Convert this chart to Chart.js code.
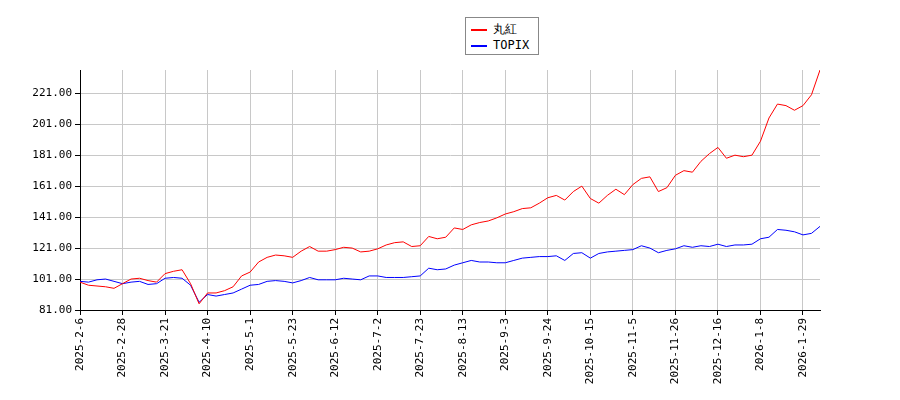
<!DOCTYPE html>
<html><head><meta charset="utf-8">
<script src="https://cdn.jsdelivr.net/npm/chart.js@4"></script>
<style>body{margin:0;background:#fff}#w{position:relative;width:900px;height:400px}
#lg{position:absolute;left:465px;top:17px;width:74px;height:38px;border:1px solid #888;background:#fff;font:12px "DejaVu Sans Mono",monospace;box-sizing:border-box;padding:3px 0 0 5px;line-height:16px}
#lg span{display:inline-block;width:16px;height:0;border-top:2px solid;vertical-align:middle;margin-right:6px}</style>
</head><body><div id="w"><canvas id="c" width="900" height="400"></canvas>
<div id="lg"><div><span style="border-color:red"></span>丸紅</div><div><span style="border-color:blue"></span>TOPIX</div></div></div>
<script>
const tickLabels=["2025-2-6","2025-2-28","2025-3-21","2025-4-10","2025-5-1","2025-5-23","2025-6-12","2025-7-2","2025-7-23","2025-8-13","2025-9-3","2025-9-24","2025-10-15","2025-11-5","2025-11-26","2025-12-16","2026-1-8","2026-1-29"];
const marubeni=[99,97,96.5,96,95,98,101,101.5,100,99,104.5,106,107,98,85,92,92,93.5,96,103,105.5,112,115,116.5,116,115,119,122,119,119,120,121.5,121,118.5,119,120.5,123,124.5,125,122,122.5,128.5,127,128,134,133,136,137.5,138.5,140.5,143,144.5,146.5,147,150,153.5,155,152,157.5,161,153,150,155,159,155.5,162,166,167,157.5,160,168,171,170,177,182,186,179,181,180,181,190,205,214,213,210,213,220,236];
const topix=[99.5,99,100.5,101,99.5,98,99,99.5,97.5,98,101.5,102,101.5,97,86,91,90,91,92,94.5,97,97.5,99.5,100,99.5,98.5,100,102,100.5,100.5,100.5,101.5,101,100.5,103,103,102,102,102,102.5,103,108,107,107.5,110,111.5,113,112,112,111.5,111.5,113,114.5,115,115.5,115.5,116,113,117.5,118,114.5,117.5,118.5,119,119.5,120,122.5,121,118,119.5,120.5,122.5,121.5,122.5,122,123.5,122,123,123,123.5,127,128,133,132.5,131.5,129.5,130.5,135];
const yTicks=[81,101,121,141,161,181,201,221];
const pts=a=>a.map((v,i)=>({x:i,y:v}));
new Chart(document.getElementById('c'),{type:'line',
data:{datasets:[{data:pts(marubeni),borderColor:'red',borderWidth:1,pointRadius:0,tension:0},
{data:pts(topix),borderColor:'blue',borderWidth:1,pointRadius:0,tension:0}]},
options:{responsive:false,animation:false,layout:{padding:{left:0,right:80,top:70,bottom:0}},
plugins:{legend:{display:false},tooltip:{enabled:false}},
scales:{x:{type:'linear',min:0,max:87,
afterBuildTicks:s=>{s.ticks=tickLabels.map((t,i)=>({value:i*5}));},
afterFit:s=>{s.height=90;},
grid:{color:'#c8c8c8',tickLength:5,tickColor:'#000'},border:{color:'#000'},
ticks:{maxRotation:90,minRotation:90,autoSkip:false,color:'#000',font:{family:'DejaVu Sans Mono',size:11},callback:v=>tickLabels[v/5]}},
y:{min:81,max:236,afterBuildTicks:s=>{s.ticks=yTicks.map(v=>({value:v}));},
afterFit:s=>{s.width=80;},
grid:{color:'#c8c8c8',tickLength:5,tickColor:'#000'},border:{color:'#000'},
ticks:{color:'#000',font:{family:'DejaVu Sans Mono',size:11},callback:v=>v.toFixed(2)}}}}});
</script></body></html>
